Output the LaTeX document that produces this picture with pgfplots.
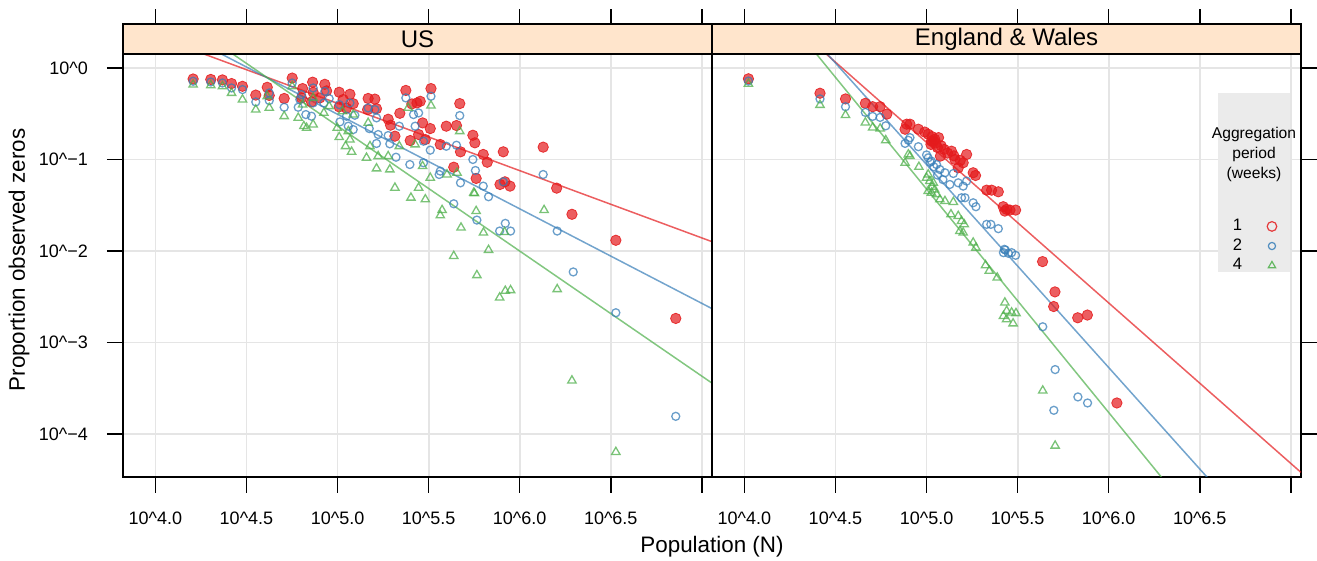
\documentclass[border=0pt]{standalone}
\usepackage{pgfplots}
\usepackage{pgfplotstable}
\pgfplotsset{compat=1.18}
\usepackage{fontspec}
\setmainfont{Liberation Sans}
\definecolor{setred}{HTML}{E41A1C}
\definecolor{setblue}{HTML}{377EB8}
\definecolor{setgreen}{HTML}{4DAF4A}
\definecolor{stripc}{HTML}{FFE5CC}
\definecolor{gridc}{HTML}{E5E5E5}
\definecolor{leggray}{HTML}{EBEBEB}

% ---------- US (log10 N, log10 proportion) ----------
\pgfplotstableread{
x y
4.207 -0.120
4.304 -0.125
4.368 -0.130
4.418 -0.170
4.478 -0.200
4.551 -0.296
4.614 -0.211
4.625 -0.300
4.707 -0.333
4.751 -0.110
4.808 -0.225
4.802 -0.327
4.863 -0.155
4.866 -0.265
4.857 -0.370
4.930 -0.178
4.940 -0.250
4.903 -0.327
5.009 -0.265
5.068 -0.287
5.031 -0.345
5.086 -0.390
5.009 -0.425
5.049 -0.440
5.168 -0.333
5.205 -0.340
5.214 -0.445
5.165 -0.455
5.278 -0.560
5.291 -0.625
5.342 -0.495
5.315 -0.745
5.375 -0.245
5.513 -0.225
5.408 -0.393
5.436 -0.382
5.454 -0.364
5.467 -0.600
5.509 -0.662
5.671 -0.389
5.597 -0.636
5.653 -0.629
5.743 -0.735
5.754 -0.818
5.445 -0.727
5.399 -0.793
5.482 -0.782
5.564 -0.836
5.675 -0.916
5.800 -0.945
5.822 -1.030
5.910 -0.916
6.129 -0.865
5.638 -1.084
5.761 -1.207
5.892 -1.273
5.919 -1.244
5.947 -1.291
6.203 -1.313
6.287 -1.599
6.528 -1.883
6.857 -2.737
}\usone
\pgfplotstableread{
x y
4.207 -0.145
4.304 -0.153
4.368 -0.164
4.418 -0.218
4.478 -0.236
4.551 -0.371
4.625 -0.356
4.625 -0.273
4.707 -0.429
4.751 -0.164
4.802 -0.291
4.784 -0.429
4.826 -0.509
4.857 -0.527
4.793 -0.345
4.866 -0.218
4.866 -0.382
4.930 -0.255
4.925 -0.382
4.954 -0.335
5.009 -0.400
5.068 -0.382
5.049 -0.527
5.013 -0.589
5.059 -0.636
5.086 -0.673
5.095 -0.516
5.168 -0.436
5.205 -0.455
5.214 -0.545
5.174 -0.662
5.223 -0.727
5.214 -0.825
5.278 -0.738
5.287 -0.829
5.339 -0.636
5.321 -0.975
5.397 -1.055
5.375 -0.327
5.513 -0.309
5.417 -0.509
5.445 -0.491
5.426 -0.636
5.671 -0.520
5.472 -0.800
5.509 -0.898
5.597 -0.855
5.653 -0.844
5.743 -1.000
5.757 -1.120
5.472 -1.036
5.564 -1.127
5.558 -1.164
5.675 -1.255
5.800 -1.291
5.910 -1.244
6.129 -1.164
5.829 -1.407
5.638 -1.484
5.765 -1.662
5.921 -1.698
5.890 -1.782
5.950 -1.782
6.206 -1.782
6.294 -2.229
6.528 -2.675
6.857 -3.807
}\ustwo
\pgfplotstableread{
x y
4.207 -0.182
4.304 -0.189
4.368 -0.200
4.418 -0.273
4.478 -0.345
4.551 -0.455
4.625 -0.436
4.614 -0.309
4.707 -0.527
4.751 -0.200
4.784 -0.545
4.815 -0.636
4.830 -0.655
4.866 -0.618
4.808 -0.400
4.866 -0.327
4.925 -0.491
4.954 -0.418
4.998 -0.655
5.009 -0.756
5.068 -0.782
5.044 -0.855
5.077 -0.916
5.059 -0.691
5.086 -0.509
5.027 -0.473
5.168 -0.600
5.178 -0.855
5.159 -0.982
5.214 -1.098
5.223 -0.964
5.287 -1.109
5.278 -0.964
5.315 -1.309
5.339 -0.855
5.388 -0.436
5.513 -0.411
5.426 -0.836
5.671 -0.691
5.467 -1.073
5.509 -1.200
5.601 -1.164
5.656 -1.145
5.748 -1.364
5.445 -1.309
5.403 -1.418
5.482 -1.436
5.574 -1.553
5.564 -1.611
5.752 -1.371
5.761 -1.564
5.678 -1.745
5.801 -1.800
5.917 -1.793
5.829 -1.989
6.134 -1.553
5.638 -2.055
5.765 -2.265
5.890 -2.509
5.921 -2.436
5.950 -2.429
6.206 -2.418
6.287 -3.416
6.528 -4.197
}\usfour

% ---------- England & Wales ----------
\pgfplotstableread{
x y
4.022 -0.118
4.415 -0.276
4.555 -0.338
4.664 -0.386
4.704 -0.423
4.745 -0.423
4.782 -0.504
4.891 -0.614
4.909 -0.614
4.882 -0.669
4.955 -0.669
4.990 -0.700
5.009 -0.724
5.030 -0.750
5.027 -0.798
5.040 -0.800
5.045 -0.779
5.050 -0.820
5.066 -0.761
5.024 -0.835
5.080 -0.850
5.060 -0.870
5.097 -0.890
5.115 -0.930
5.137 -0.909
5.150 -0.960
5.076 -0.963
5.220 -0.945
5.156 -1.000
5.185 -1.010
5.201 -1.036
5.174 -1.091
5.256 -1.145
5.269 -1.175
5.330 -1.335
5.357 -1.335
5.394 -1.353
5.421 -1.516
5.440 -1.545
5.458 -1.553
5.489 -1.553
5.430 -1.564
5.637 -2.116
5.705 -2.447
5.698 -2.607
5.830 -2.730
5.883 -2.700
6.045 -3.661
}\ewone
\pgfplotstableread{
x y
4.022 -0.143
4.415 -0.338
4.555 -0.423
4.664 -0.485
4.704 -0.529
4.745 -0.540
4.776 -0.632
4.909 -0.761
4.882 -0.824
4.955 -0.860
4.900 -0.790
5.000 -0.950
5.009 -0.982
5.020 -1.030
5.027 -1.018
5.040 -1.080
5.055 -1.055
5.060 -1.170
5.073 -1.109
5.090 -1.220
5.101 -1.145
5.147 -1.153
5.128 -1.273
5.174 -1.255
5.201 -1.291
5.220 -1.236
5.192 -1.418
5.211 -1.418
5.256 -1.473
5.271 -1.516
5.330 -1.709
5.353 -1.709
5.394 -1.756
5.427 -1.982
5.449 -2.025
5.467 -2.018
5.489 -2.047
5.422 -2.018
5.433 -1.990
5.638 -2.828
5.706 -3.296
5.699 -3.741
5.831 -3.595
5.884 -3.661
}\ewtwo
\pgfplotstableread{
x y
4.022 -0.173
4.415 -0.404
4.555 -0.515
4.664 -0.596
4.704 -0.651
4.745 -0.662
4.776 -0.790
4.900 -0.945
4.882 -1.037
4.958 -1.081
4.909 -0.963
5.000 -1.200
5.009 -1.164
5.018 -1.236
5.030 -1.300
5.037 -1.255
5.045 -1.330
5.009 -1.345
5.027 -1.364
5.055 -1.382
5.073 -1.436
5.101 -1.455
5.147 -1.465
5.134 -1.600
5.174 -1.618
5.192 -1.673
5.207 -1.709
5.183 -1.782
5.201 -1.800
5.256 -1.909
5.271 -1.964
5.324 -2.156
5.344 -2.218
5.388 -2.291
5.430 -2.564
5.440 -2.655
5.467 -2.673
5.491 -2.680
5.422 -2.712
5.439 -2.748
5.475 -2.792
5.638 -3.526
5.706 -4.128
}\ewfour

\pgfplotsset{
  panel/.style={
    scale only axis, width=294.5pt, height=211.5pt,
    xmin=3.822, xmax=7.056, ymin=-4.47, ymax=0.153,
    axis line style={line width=0.8pt},
    every tick/.style={black, line width=0.8pt},
    tick align=outside, major tick length=8pt,
    xtick={4,4.5,5,5.5,6,6.5,7},
    xticklabels={10\textasciicircum 4.0,10\textasciicircum 4.5,10\textasciicircum 5.0,10\textasciicircum 5.5,10\textasciicircum 6.0,10\textasciicircum 6.5,{}},
    ytick={0,-1,-2,-3,-4},
    xtick pos=bottom,
    grid=major, major grid style={gridc, line width=0.9pt},
    tick label style={font=\fontsize{9}{10.5}\selectfont},
    xticklabel style={yshift=-6pt},
    after end axis/.append code={
      \draw[line width=0.8pt, fill=stripc] (rel axis cs:0,1) rectangle (rel axis cs:1,1.0709);
      \foreach \t in {4,4.5,...,7.0}{
        \draw[line width=0.8pt] (axis cs:\t,0.153) ++(0,15pt) -- ++(0,7.5pt);
      }
    },
  },
  pts1/.style={only marks, mark=*, mark size=2.6pt,
    mark options={fill=setred, fill opacity=0.7, draw=setred, draw opacity=0.85, line width=0.4pt}},
  pts2/.style={only marks, mark=o, mark size=2pt,
    mark options={draw=setblue, draw opacity=0.75, line width=0.65pt}},
  pts4/.style={only marks, mark=triangle, mark size=2.4pt,
    mark options={draw=setgreen, draw opacity=0.75, line width=0.65pt}},
  fit1/.style={no marks, setred, draw opacity=0.7, line width=0.75pt},
  fit2/.style={no marks, setblue, draw opacity=0.7, line width=0.75pt},
  fit4/.style={no marks, setgreen, draw opacity=0.7, line width=0.75pt},
}

\begin{document}
\begin{tikzpicture}
% ---------- US panel ----------
\begin{axis}[panel, at={(0pt,0pt)}, ytick pos=left,
  yticklabels={10\textasciicircum 0,10\textasciicircum −1,10\textasciicircum −2,10\textasciicircum −3,10\textasciicircum −4},
  yticklabel style={xshift=-6pt}]
\addplot[pts1, forget plot] table[x=x, y=y] {\usone};
\addplot[fit1, forget plot] coordinates {(4.235,0.176) (7.056,-1.898)};
\addplot[pts2, forget plot] table[x=x, y=y] {\ustwo};
\addplot[fit2, forget plot] coordinates {(4.340,0.176) (7.056,-2.630)};
\addplot[pts4, forget plot] table[x=x, y=y] {\usfour};
\addplot[fit4, forget plot] coordinates {(4.408,0.176) (7.056,-3.444)};
\end{axis}
\node[font=\fontsize{12}{14}\selectfont] at (147.25pt,218.7pt) {US};

% ---------- England & Wales panel ----------
\begin{axis}[panel, at={(294.5pt,0pt)}, ytick pos=right, yticklabels={,,,,},
  legend plot pos=right,
  legend style={at={(axis cs:6.680,-1.62)}, anchor=north west, draw=none, fill=none,
    inner sep=0pt, column sep=12.5pt, row sep=0pt,
    font=\fontsize{8.3}{9.6}\selectfont,
    nodes={inner sep=0pt, minimum height=9.8pt}},
  legend cell align=left]
\fill[leggray] (axis cs:6.600,-0.273) rectangle (axis cs:6.996,-2.230);
\node[align=center, font=\fontsize{7.8}{10}\selectfont] at (axis cs:6.798,-0.940) {Aggregation\\period\\(weeks)};
\addplot[pts1, forget plot] table[x=x, y=y] {\ewone};
\addplot[fit1, forget plot] coordinates {(4.436,0.176) (7.056,-4.420)};
\addplot[pts2, forget plot] table[x=x, y=y] {\ewtwo};
\addplot[fit2, forget plot] coordinates {(4.445,0.176) (6.598,-4.600)};
\addplot[pts4, forget plot] table[x=x, y=y] {\ewfour};
\addplot[fit4, forget plot] coordinates {(4.386,0.176) (6.342,-4.600)};
\addlegendimage{only marks, mark=o, mark size=2.4pt, mark options={draw=setred, draw opacity=0.85, line width=0.6pt}}
\addlegendentry{1}
\addlegendimage{only marks, mark=o, mark size=1.8pt, mark options={draw=setblue, draw opacity=0.85, line width=0.6pt}}
\addlegendentry{2}
\addlegendimage{only marks, mark=triangle, mark size=2.1pt, mark options={draw=setgreen, draw opacity=0.85, line width=0.6pt}}
\addlegendentry{4}
\end{axis}
\node[font=\fontsize{12}{14}\selectfont] at (441.75pt,218.7pt) {England \& Wales};

\node[rotate=90, font=\fontsize{11.2}{13}\selectfont] at (-52pt,108.5pt) {Proportion observed zeros};
\node[font=\fontsize{11.2}{13}\selectfont] at (294.5pt,-35pt) {Population (N)};

\pgfresetboundingbox
\path[use as bounding box] (-61.5pt,-42pt) rectangle (597pt,238.5pt);
\end{tikzpicture}
\end{document}
